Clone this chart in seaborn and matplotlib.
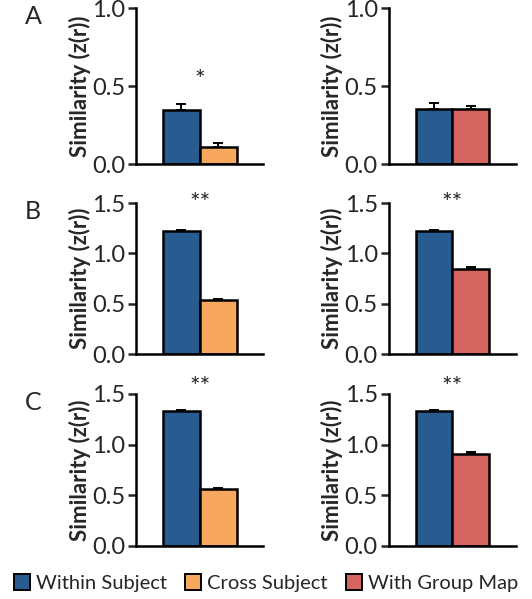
import pandas as pd
import numpy as np
import matplotlib.pyplot as plt
import seaborn as sns
from matplotlib.patches import Patch

# data
conditions = ['Within Subject', 'Cross Subject', 'With Group Map']
colors = {'Within Subject': '#285B8F', 'Cross Subject': '#F6A85E', 'With Group Map': '#D3645F'}

# rows A, B, C ; left column = within vs cross, right column = within vs group
left_within = [0.35, 1.22, 1.33]
left_within_err = [0.035, 0.01, 0.01]
left_cross = [0.11, 0.535, 0.565]
left_cross_err = [0.025, 0.008, 0.008]
right_within = [0.355, 1.22, 1.33]
right_within_err = [0.035, 0.01, 0.01]
right_group = [0.355, 0.845, 0.905]
right_group_err = [0.02, 0.02, 0.02]
stars_left = ['*', '**', '**']
stars_right = ['', '**', '**']
star_y = [0.54, 1.5, 1.56]
ylims = [1.0, 1.5, 1.5]
row_labels = ['A', 'B', 'C']

sns.set_style('white')
plt.rcParams['font.family'] = ['Lato', 'DejaVu Sans']

fig = plt.figure(figsize=(5.32, 5.99), dpi=100)

# axes boxes in figure fraction
col_x = [0.256, 0.731]
ax_w = 0.239
row_box = [(0.726, 0.260), (0.409, 0.252), (0.0885, 0.254)]

for r in range(3):
    bottom, height = row_box[r]
    for c in range(2):
        ax = fig.add_axes([col_x[c], bottom, ax_w, height])
        if c == 0:
            cats = ['Within Subject', 'Cross Subject']
            vals = [left_within[r], left_cross[r]]
            errs = [left_within_err[r], left_cross_err[r]]
            star = stars_left[r]
        else:
            cats = ['Within Subject', 'With Group Map']
            vals = [right_within[r], right_group[r]]
            errs = [right_within_err[r], right_group_err[r]]
            star = stars_right[r]
        df = pd.DataFrame({'cond': cats, 'val': vals})
        sns.barplot(data=df, x='cond', y='val', hue='cond', palette=colors,
                    saturation=1, width=1.0, edgecolor='black', linewidth=1.8,
                    legend=False, ax=ax, errorbar=None)
        ax.errorbar([0, 1], vals, yerr=[[0, 0], errs], fmt='none',
                    ecolor='black', elinewidth=1.4, capsize=3.5, capthick=1.4)
        if star:
            ax.text(0.5, star_y[r], star, ha='center', va='center', fontsize=18)
        ax.set_xlim(-1.22, 2.22)
        ax.set_ylim(0, ylims[r])
        ticks = np.arange(0, ylims[r] + 0.01, 0.5)
        ax.set_yticks(ticks)
        ax.set_yticklabels([f'{t:.1f}' for t in ticks], fontsize=17)
        ax.set_xticks([])
        ax.set_xlabel('')
        ax.set_ylabel('Similarity (z(r))', fontsize=16, fontweight='bold', labelpad=1)
        sns.despine(ax=ax)
        for s in ['left', 'bottom']:
            ax.spines[s].set_linewidth(1.8)
            ax.spines[s].set_color('black')
        ax.tick_params(axis='y', left=True, direction='out', length=6, width=1.8, pad=2)
    fig.text(0.047, bottom + height + 0.005, row_labels[r], fontsize=18, va='top', ha='left')

handles = [Patch(facecolor=colors[k], edgecolor='black', linewidth=1.4, label=k) for k in conditions]
fig.legend(handles=handles, loc='lower center', bbox_to_anchor=(0.5, -0.012), ncol=3,
           frameon=False, fontsize=14.5, handlelength=0.8, handleheight=0.8,
           handletextpad=0.3, columnspacing=0.9, borderaxespad=0.3)

fig.savefig('out.png', dpi=100)
